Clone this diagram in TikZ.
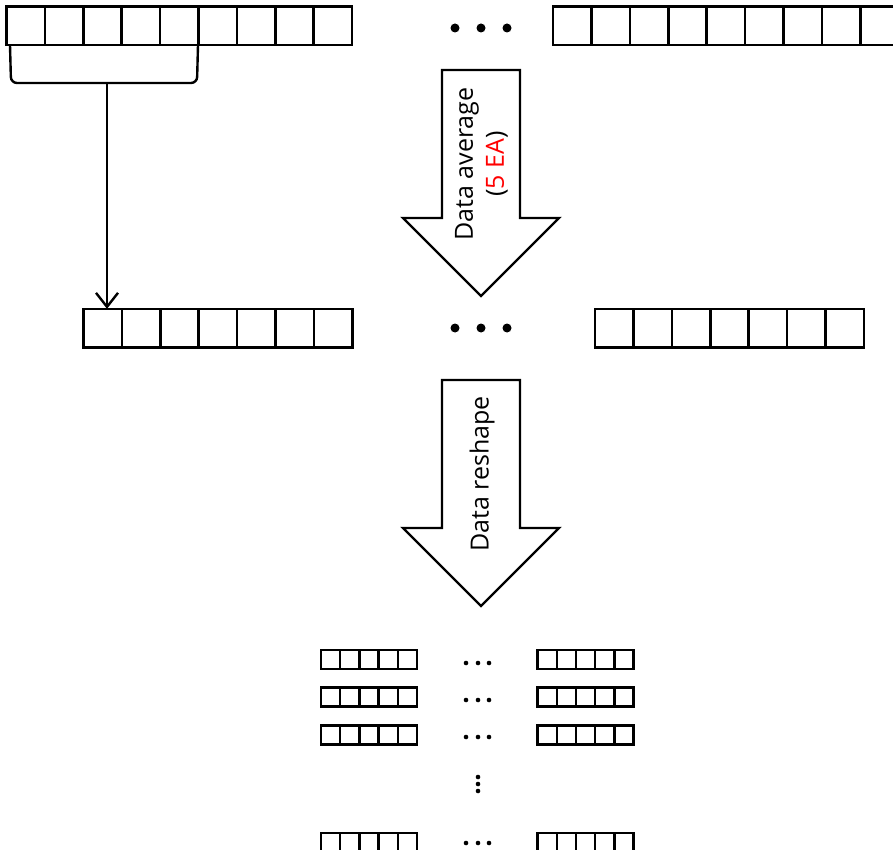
\documentclass[tikz,border=0pt]{standalone}
\usetikzlibrary{arrows.meta}
\usepackage{fontspec}
\setmainfont{Open Sans}
\begin{document}
\begin{tikzpicture}[x=1pt,y=-1pt,
  cell/.style={draw,line width=2.6pt,minimum width=38.4pt,minimum height=38.4pt,inner sep=0pt,outer sep=0pt},
  scell/.style={draw,line width=2.4pt,minimum width=19.2pt,minimum height=19.2pt,inner sep=0pt,outer sep=0pt},
  bigdot/.style={fill,circle,inner sep=0pt,minimum size=9pt},
  smalldot/.style={fill,circle,inner sep=0pt,minimum size=4.6pt},
  blockarrow/.style={draw,line width=2.4pt,fill=white,line join=miter},
  lbl/.style={font=\fontsize{25}{27}\selectfont,rotate=90,inner sep=0pt}]
\useasboundingbox (0,0) rectangle (893,850);
% top rows
\foreach \i in {0,...,8} {
  \node[cell] (a\i) at ({6.5+19.2+38.4*\i},26) {};
  \node[cell] (c\i) at ({553+19.2+38.4*\i},26) {};
}
\foreach \i in {0,...,6} {
  \node[cell] (b\i) at ({83.5+19.2+38.4*\i},328) {};
  \node[cell] (d\i) at ({595+19.2+38.4*\i},328) {};
}
% dots
\foreach \x/\n in {455/1,481/2,507/3} {
  \node[bigdot] (ta\n) at (\x,28) {};
  \node[bigdot] (tb\n) at (\x,328) {};
}
% bracket
\coordinate (bl) at (10,45);
\coordinate (br) at (198,45);
\coordinate (brk) at (107,83);
\draw[line width=2.4pt,rounded corners=6pt] (bl) -- (11,83) -- (197,83) -- (br);
\draw[line width=2.4pt,-{Straight Barb[length=14pt,width=22pt,line width=2.4pt]}] (brk) -- (brk |- b0.north);
% block arrow 1
\draw[blockarrow] (442,70) -- (520,70) -- (520,218) -- (559,218) -- (481,296) -- (403,218) -- (442,218) -- cycle;
\node[lbl] (t1) at (467,164) {Data average};
\node[lbl] (t2) at (497,164) {(\textcolor{red}{5 EA})};
% block arrow 2
\draw[blockarrow] (442,380) -- (520,380) -- (520,528) -- (559,528) -- (481,606) -- (403,528) -- (442,528) -- cycle;
\node[lbl] (t3) at (482,474) {Data reshape};
% small rows
\foreach \y/\r in {659.5/1,697/2,735/3,842.5/4} {
  \foreach \i in {0,...,4} {
    \node[scell] (l\r\i) at ({321+9.6+19.2*\i},\y) {};
    \node[scell] (r\r\i) at ({537.5+9.6+19.2*\i},\y) {};
  }
}
\foreach \y/\r in {663/1,700/2,737/3,843/4} {
  \foreach \x/\n in {466/1,478/2,489/3} {
    \node[smalldot] (sd\r\n) at (\x,\y) {};
  }
}
\foreach \y/\n in {777/1,784/2,791/3} {
  \node[smalldot] (vd\n) at (478,\y) {};
}
\end{tikzpicture}
\end{document}
